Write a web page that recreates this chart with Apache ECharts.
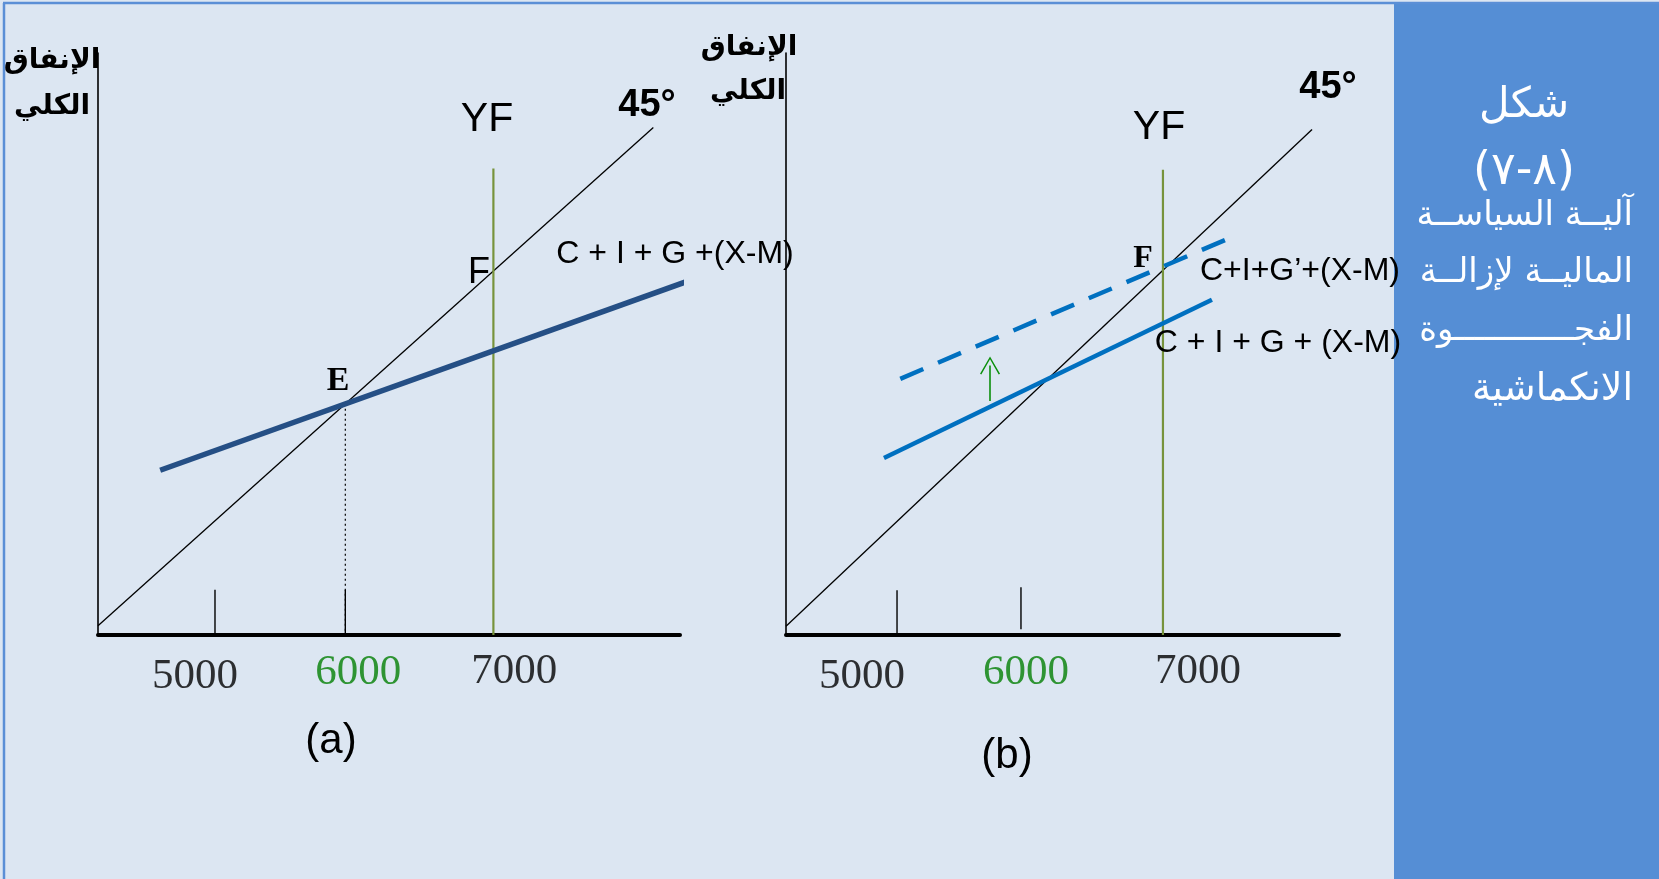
<!DOCTYPE html>
<html><head><meta charset="utf-8">
<script src="https://cdn.jsdelivr.net/npm/echarts@6/dist/echarts.min.js"></script>
<style>html,body{margin:0;padding:0;overflow:hidden;background:#DCE6F2}#c{width:1659px;height:879px}</style>
</head><body><div id="c"></div><script>
// ---------- Panel (a) data (income / expenditure units) ----------
const xDomainA = [4330, 8260];
const yDomainA = [4260, 8640];
const line45A = [[4330, 4330], [8080, 8080]];
const aggDemandA = [[4750, 5500], [8330, 6930]];
const fullEmploymentA = [[7000, 4260], [7000, 7770]];
const equilibriumDropA = [[6000, 6000], [6000, 4260]];
const tickMarksA = [[[5120, 4260], [5120, 4600]], [[6000, 4260], [6000, 4600]]];
const tickLabels = ['5000', '6000', '7000'];
const tickLabelXA = [4985, 6087, 7141];
const tickLabelYA = [3944, 3974, 3981];

// ---------- Panel (b) data ----------
const xDomainB = [4345, 8240];
const yDomainB = [4280, 8620];
const line45B = [[4345, 4345], [8050, 8050]];
const aggDemandB = [[5035, 5600], [7345, 6780]];
const aggDemandShiftedB = [[5150, 6190], [7470, 7240]];
const fullEmploymentB = [[7000, 4280], [7000, 7750]];
const tickMarksB = [[[5127, 4280], [5127, 4613]], [[6000, 4323], [6000, 4636]]];
const shiftArrowB = [[5782, 6025], [5782, 6290]];
const tickLabelXB = [4880, 6035, 7246];
const tickLabelYB = [3967, 3997, 4004];

const SANS = '"Liberation Sans", Arial, sans-serif';
const SERIF = '"Liberation Serif", "Times New Roman", serif';
const AR = '"DejaVu Sans", sans-serif';

function lineSeries(idx, data, color, width, type, z) {
  return {
    type: 'line', xAxisIndex: idx, yAxisIndex: idx, data: data,
    symbol: 'none', showSymbol: false, clip: false, silent: true, animation: false,
    lineStyle: { color: color, width: width, type: type || 'solid', cap: 'butt' },
    z: z || 2
  };
}
function tickLabelSeries(idx, xs, ys) {
  return {
    type: 'scatter', xAxisIndex: idx, yAxisIndex: idx, clip: false, silent: true, animation: false,
    symbolSize: 1, itemStyle: { color: 'rgba(0,0,0,0)' },
    data: tickLabels.map((t, i) => ({
      value: [xs[i], ys[i]],
      label: { color: i === 1 ? '#037F03' : '#000000' }
    })),
    label: {
      show: true, position: 'inside',
      formatter: p => tickLabels[p.dataIndex],
      fontFamily: SERIF, fontSize: 43, textBorderWidth: 0
    }
  };
}
function axisPair(idx, xd, yd) {
  return {
    x: {
      type: 'value', gridIndex: idx, min: xd[0], max: xd[1],
      axisLine: { show: true, onZero: false, lineStyle: { color: '#000', width: 4 } },
      axisTick: { show: false }, axisLabel: { show: false }, splitLine: { show: false }
    },
    y: {
      type: 'value', gridIndex: idx, min: yd[0], max: yd[1],
      axisLine: { show: true, onZero: false, lineStyle: { color: '#000', width: 1.6 } },
      axisTick: { show: false }, axisLabel: { show: false }, splitLine: { show: false }
    }
  };
}
const axA = axisPair(0, xDomainA, yDomainA);
const axB = axisPair(1, xDomainB, yDomainB);

function txt(text, x, y, font, fill, align) {
  return {
    type: 'text', x: x, y: y, silent: true, z: 100,
    style: { text: text, font: font, fill: fill || '#000', align: align || 'center', verticalAlign: 'middle' }
  };
}

const series = [];
// Panel a
series.push(lineSeries(0, line45A, '#000000', 1.3));
series.push(lineSeries(0, fullEmploymentA, '#77933C', 2.2));
series.push(lineSeries(0, equilibriumDropA, '#000000', 1.2, [2, 3]));
tickMarksA.forEach(t => series.push(lineSeries(0, t, '#000000', 1.4)));
series.push(lineSeries(0, aggDemandA, '#254F85', 5.5, 'solid', 3));
series.push(tickLabelSeries(0, tickLabelXA, tickLabelYA));
// Panel b
series.push(lineSeries(1, line45B, '#000000', 1.3));
series.push(lineSeries(1, fullEmploymentB, '#77933C', 2.2));
tickMarksB.forEach(t => series.push(lineSeries(1, t, '#000000', 1.4)));
series.push(lineSeries(1, aggDemandB, '#0070C0', 4.5, 'solid', 3));
series.push(lineSeries(1, aggDemandShiftedB, '#0070C0', 4.5, [25, 16], 3));
series.push({
  type: 'line', xAxisIndex: 1, yAxisIndex: 1, data: [], silent: true, animation: false,
  markLine: {
    silent: true, animation: false,
    symbol: ['none', 'path://M0,18 L10,0 L20,18 L18.7,18.7 L10,2.8 L1.3,18.7 Z'],
    symbolSize: [20, 18],
    label: { show: false },
    lineStyle: { color: '#0A8F0A', width: 1.6, type: 'solid' },
    data: [[{ coord: shiftArrowB[0] }, { coord: shiftArrowB[1] }]]
  }
});
series.push(tickLabelSeries(1, tickLabelXB, tickLabelYB));

const graphics = [
  { type: 'rect', shape: { x: 1394, y: 4, width: 265, height: 875 }, style: { fill: '#558ED5' }, silent: true, z: 0 },
  { type: 'line', shape: { x1: 3, y1: 3, x2: 1659, y2: 3 }, style: { stroke: '#5B8FD6', lineWidth: 2.5 }, silent: true, z: 1 },
  { type: 'line', shape: { x1: 4, y1: 3, x2: 4, y2: 879 }, style: { stroke: '#5B8FD6', lineWidth: 2.5 }, silent: true, z: 1 },
  // axis titles
  txt('الإنفاق', 52, 61, 'bold 28px ' + AR),
  txt('الكلي', 52, 107, 'bold 28px ' + AR),
  txt('الإنفاق', 749, 48, 'bold 28px ' + AR),
  txt('الكلي', 748, 92, 'bold 28px ' + AR),
  // annotations panel a
  txt('YF', 487, 120, '41px ' + SANS),
  txt('45°', 647, 106, 'bold 38px ' + SANS),
  txt('F', 479, 273, '36px ' + SANS),
  txt('E', 338, 381, 'bold 34px ' + SERIF),
  txt('C + I + G +(X-M)', 675, 254, '32px ' + SANS),
  txt('(a)', 331, 741, '42px ' + SANS),
  // annotations panel b
  txt('YF', 1159, 128, '41px ' + SANS),
  txt('45°', 1328, 88, 'bold 38px ' + SANS),
  txt('F', 1143, 259, 'bold 32px ' + SERIF),
  txt('C+I+G’+(X-M)', 1300, 271, '32px ' + SANS),
  txt('C + I + G + (X-M)', 1278, 343, '32px ' + SANS),
  txt('(b)', 1007, 756, '42px ' + SANS),
  // right panel
  txt('شكل', 1524, 106, '42px ' + AR, '#FFFFFF'),
  txt('(٨-٧)', 1524, 172, '46px ' + AR, '#FFFFFF'),
  txt('آليــة السياســة', 1633, 216, '34px ' + AR, '#FFFFFF', 'right'),
  txt('الماليــة لإزالــة', 1633, 273, '34px ' + AR, '#FFFFFF', 'right'),
  txt('الفجــــــــــــوة', 1633, 331, '34px ' + AR, '#FFFFFF', 'right'),
  txt('الانكماشية', 1633, 390, '38px ' + AR, '#FFFFFF', 'right')
];

const chart = echarts.init(document.getElementById('c'), null, { renderer: 'canvas' });
chart.setOption({
  backgroundColor: '#DCE6F2',
  animation: false,
  grid: [
    { left: 98, top: 53, width: 582, height: 582 },
    { left: 786, top: 53, width: 553, height: 582 }
  ],
  xAxis: [axA.x, axB.x],
  yAxis: [axA.y, axB.y],
  series: series,
  graphic: graphics
});
</script></body></html>
